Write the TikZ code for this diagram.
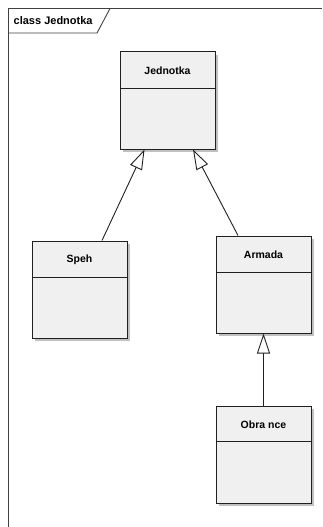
\documentclass[tikz,border=0pt]{standalone}
\usepackage{fontspec}
\setmainfont{Liberation Sans}
\usetikzlibrary{arrows.meta,shadows,calc}
\definecolor{boxfill}{HTML}{F0F0F0}
\definecolor{edge}{HTML}{202020}
\definecolor{shade}{HTML}{C0C0C0}
\tikzset{
  classbox/.style={draw=edge, line width=1pt, fill=boxfill, rectangle,
    minimum width=95pt, minimum height=97pt, inner sep=0pt,
    drop shadow={shadow xshift=3pt, shadow yshift=-3pt, fill=shade, opacity=1}},
  classname/.style={font=\bfseries\fontsize{10.5}{12}\selectfont, inner sep=0pt},
  divider/.style={draw=edge, line width=1pt},
  gen/.style={draw=edge, line width=0.9pt,
    -{Triangle[open, length=20pt, width=13pt, fill=white]}},
  frameline/.style={draw=black!75, line width=1.2pt},
}
\begin{document}
\begin{tikzpicture}[x=1pt, y=-1pt]
  \useasboundingbox (0,0) rectangle (322,527);
  % diagram frame with its title tab
  \draw[frameline] (8.5,527) -- (8.5,8.5) -- (322,8.5);
  \draw[frameline, line width=0.9pt] (8.5,33) -- (97,33) -- (110,8.5);
  \node[font=\bfseries\fontsize{11}{13}\selectfont, anchor=west, inner sep=0pt]
    (title) at (13.5,20.5) {class Jednotka};

  % classes
  \node[classbox] (jed) at (167.5,100.5) {};
  \node[classbox] (speh) at (79.5,289.5) {};
  \node[classbox] (arm) at (263.5,284.5) {};
  \node[classbox] (obr) at (263.5,454.5) {};

  \draw[divider] ($(jed.north west)+(0,37)$) -- ($(jed.north east)+(0,37)$);
  \draw[divider] ($(speh.north west)+(0,37)$) -- ($(speh.north east)+(0,37)$);
  \draw[divider] ($(arm.north west)+(0,37)$) -- ($(arm.north east)+(0,37)$);
  \draw[divider] ($(obr.north west)+(0,36)$) -- ($(obr.north east)+(0,36)$);

  \node[classname] (jedname) at ($(jed.north)+(0,19.5)$) {Jednotka};
  \node[classname] (spehname) at ($(speh.north)+(0,19.5)$) {Speh};
  \node[classname] (armname) at ($(arm.north)+(0,19.5)$) {Armada};
  \node[classname] (obrname) at ($(obr.north)+(0,19)$) {Obra nce};

  % generalisations
  \draw[gen] ($(speh.north)+(22.5,0)$) -- ($(jed.south)+(-23,0)$);
  \draw[gen] ($(arm.north)+(-25.5,0)$) -- ($(jed.south)+(25.5,0)$);
  \draw[gen] (obr.north) -- (arm.south);
\end{tikzpicture}
\end{document}
